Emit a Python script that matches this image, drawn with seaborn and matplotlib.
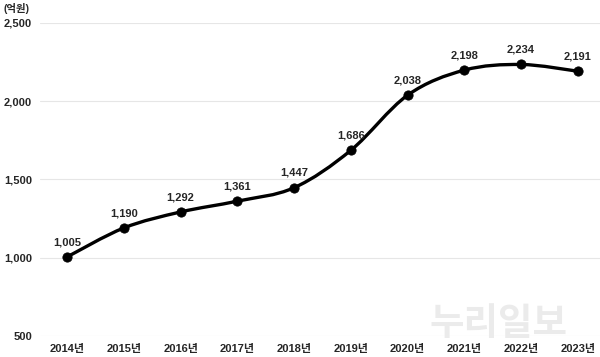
import numpy as np
import pandas as pd
import matplotlib
matplotlib.use("Agg")
import matplotlib.pyplot as plt
import seaborn as sns
from matplotlib.path import Path
from matplotlib.patches import PathPatch

years = ["2014년", "2015년", "2016년", "2017년", "2018년", "2019년", "2020년", "2021년", "2022년", "2023년"]
values = [1005, 1190, 1292, 1361, 1447, 1686, 2038, 2198, 2234, 2191]
y_ticks = [500, 1000, 1500, 2000, 2500]

sns.set_style("white")
plt.rcParams['font.family'] = ['Liberation Sans', 'Noto Sans CJK KR', 'DejaVu Sans']

df = pd.DataFrame({"year": years, "value": values})
df["x"] = np.arange(len(df))

fig = plt.figure(figsize=(6, 3.57), dpi=100)
ax = fig.add_axes([0.067, 0.059, 0.933, 0.877])

# smooth line (Catmull-Rom as cubic Bezier segments)
xs = df["x"].to_numpy(dtype=float)
ys = df["value"].to_numpy(dtype=float)
pts = np.column_stack([xs, ys])
verts = [tuple(pts[0])]
codes = [Path.MOVETO]
for i in range(len(pts) - 1):
    p0 = pts[i - 1] if i > 0 else pts[i]
    p1 = pts[i]
    p2 = pts[i + 1]
    p3 = pts[i + 2] if i + 2 < len(pts) else pts[i + 1]
    c1 = p1 + (p2 - p0) / 6
    c2 = p2 - (p3 - p1) / 6
    verts += [tuple(c1), tuple(c2), tuple(p2)]
    codes += [Path.CURVE4] * 3
ax.add_patch(PathPatch(Path(verts, codes), fill=False, lw=2.4, color="black",
                       capstyle="round", joinstyle="round", zorder=3))

sns.scatterplot(data=df, x="x", y="value", ax=ax, s=45, color="black",
                edgecolor="black", zorder=4, legend=False)

for xi, v in zip(xs, ys):
    ax.annotate(f"{int(v):,}", (xi, v), xytext=(0, 7), textcoords="offset points",
                ha="center", va="bottom", fontsize=8, fontweight="bold")

ax.set_xlim(-0.475, 9.39)
ax.set_ylim(500, 2500)
ax.set_yticks(y_ticks)
ax.set_yticklabels([f"{t:,}" for t in y_ticks], fontsize=8, fontweight="bold")
ax.set_xticks(xs)
ax.set_xticklabels(years, fontsize=8, fontweight="bold")
ax.set_xlabel("")
ax.set_ylabel("")
ax.grid(axis="y", color="#e6e6e6", lw=0.8)
ax.set_axisbelow(True)
sns.despine(ax=ax, left=True, bottom=True)
ax.tick_params(axis="both", length=0, pad=6)

fig.text(0.005, 0.975, "(억원)", fontsize=7.5, fontweight="bold", ha="left", va="center")
fig.text(0.83, 0.09, "누리일보", fontsize=27, fontweight="bold", color="#ebebeb",
         ha="center", va="center", zorder=0)

fig.savefig("out.png", dpi=100)
